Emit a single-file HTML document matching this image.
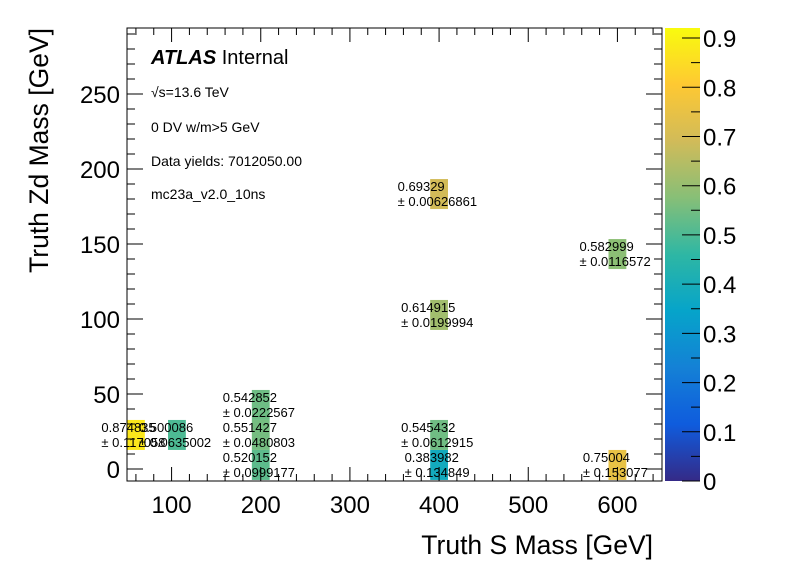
<!DOCTYPE html>
<html><head><meta charset="utf-8"><style>
html,body{margin:0;padding:0;background:#fff;}
svg{display:block;font-family:"Liberation Sans",sans-serif;}
</style></head><body>
<svg id="chart" width="796" height="572" viewBox="0 0 796 572" xmlns="http://www.w3.org/2000/svg">
<rect x="0" y="0" width="796" height="572" fill="#fff"/>
<g id="cells"></g>
<g id="labels"></g>
<g id="axes"></g>
<g id="cbar"></g>
<text x="151" y="64" font-size="20"><tspan font-weight="bold" font-style="italic">ATLAS</tspan> Internal</text>
<text x="151" y="97" font-size="14">√s=13.6 TeV</text>
<text x="151" y="132" font-size="14">0 DV w/m&gt;5 GeV</text>
<text x="151" y="166" font-size="14">Data yields: 7012050.00</text>
<text x="151" y="199" font-size="14">mc23a_v2.0_10ns</text>
<text x="653" y="554" font-size="26.5" text-anchor="end">Truth S Mass [GeV]</text>
<text transform="translate(48,28) rotate(-90)" font-size="26.5" text-anchor="end">Truth Zd Mass [GeV]</text>
</svg>
<script>
// data
const xVals = [60, 106, 200, 200, 200, 400, 400, 400, 400, 600, 600];
const yVals = [22.7, 22.7, 2.7, 22.7, 42.7, 2.7, 22.7, 102.7, 183.3, 2.7, 143.3];
const effVals = [0.874835, 0.500086, 0.520152, 0.551427, 0.542852, 0.383982, 0.545432, 0.614915, 0.69329, 0.75004, 0.582999];
const errVals = ["0.117058", "0.0635002", "0.0999177", "0.0480803", "0.0222567", "0.134849", "0.0612915", "0.0199994", "0.00626861", "0.153077", "0.0116572"];
const effText = ["0.874835", "0.500086", "0.520152", "0.551427", "0.542852", "0.383982", "0.545432", "0.614915", "0.69329", "0.75004", "0.582999"];
const xTicks = [100, 200, 300, 400, 500, 600];
const yTicks = [0, 50, 100, 150, 200, 250];
const zTicks = [0, 0.1, 0.2, 0.3, 0.4, 0.5, 0.6, 0.7, 0.8, 0.9];

const NS = "http://www.w3.org/2000/svg";
const L = 127, R = 662, T = 28, B = 481;
const xMin = 50, xMax = 650, yMin = -8, yMax = 294, zMax = 0.9204;
const xs = v => L + (v - xMin) * (R - L) / (xMax - xMin);
const ys = v => B - (v - yMin) * (B - T) / (yMax - yMin);
const CL = 665, CR = 700;
const zs = v => B - v * (B - T) / zMax;

const st = [0, .125, .25, .375, .5, .625, .75, .875, 1];
const rr = [0.2082, 0.0592, 0.0780, 0.0232, 0.1802, 0.5301, 0.8186, 0.9956, 0.9764];
const gg = [0.1664, 0.3599, 0.5041, 0.6419, 0.7178, 0.7492, 0.7328, 0.7862, 0.9832];
const bb = [0.5293, 0.8684, 0.8385, 0.7914, 0.6425, 0.4662, 0.3499, 0.1968, 0.0539];
function col(t) {
  t = Math.max(0, Math.min(1, t));
  let i = 0; while (i < st.length - 2 && t > st[i + 1]) i++;
  const f = (t - st[i]) / (st[i + 1] - st[i]);
  const c = a => Math.round(255 * (a[i] + f * (a[i + 1] - a[i])));
  return `rgb(${c(rr)},${c(gg)},${c(bb)})`;
}
function mk(tag, attrs, parent) {
  const e = document.createElementNS(NS, tag);
  for (const k in attrs) e.setAttribute(k, attrs[k]);
  parent.appendChild(e); return e;
}
const cells = document.getElementById('cells');
const labels = document.getElementById('labels');
const axes = document.getElementById('axes');
const cbar = document.getElementById('cbar');

for (let i = 0; i < xVals.length; i++) {
  const x0 = Math.max(L, xs(xVals[i] - 10)), x1 = Math.min(R, xs(xVals[i] + 10));
  const y0 = Math.max(T, ys(yVals[i] + 10)), y1 = Math.min(B, ys(yVals[i] - 10));
  const r = mk('rect', {x: x0, y: y0, width: x1 - x0, height: y1 - y0, fill: col(effVals[i] / zMax)}, cells);
  
  
}
for (let i = 0; i < xVals.length; i++) {
  const cx = xs(xVals[i]), cy = ys(yVals[i]);
  const line2 = "± " + errVals[i];
  const w = line2.length * 6.9;
  const t1 = mk('text', {x: cx - w / 2, y: cy - 3, 'font-size': 13}, labels);
  t1.textContent = effText[i];
  
  
  const t2 = mk('text', {x: cx - w / 2, y: cy + 12, 'font-size': 13}, labels);
  t2.textContent = line2;
  
  
}
const fr = mk('rect', {x: L, y: T, width: R - L, height: B - T, fill: 'none', stroke: '#000', 'stroke-width': 1}, axes);


let d = '';
for (let v = 60; v <= 640; v += 20) {
  const x = xs(v), len = (v % 100 === 0) ? 14 : 7;
  d += `M${x},${B}v${-len}M${x},${T}v${len}`;
}
for (let v = 0; v <= 290; v += 10) {
  const y = ys(v), len = (v % 50 === 0) ? 16 : 8;
  d += `M${L},${y}h${len}M${R},${y}h${-len}`;
}
const tp = mk('path', {d: d, stroke: '#000', 'stroke-width': 1, fill: 'none'}, axes);


xTicks.forEach(v => {
  const t = mk('text', {x: xs(v), y: 513, 'font-size': 24, 'text-anchor': 'middle'}, axes);
  t.textContent = v;
  
  
});
yTicks.forEach(v => {
  const t = mk('text', {x: 120, y: ys(v) + 9, 'font-size': 24, 'text-anchor': 'end'}, axes);
  t.textContent = v;
  
  
});
const defs = mk('defs', {}, cbar);
const lg = mk('linearGradient', {id: 'bird', x1: 0, y1: 1, x2: 0, y2: 0}, defs);
for (let i = 0; i <= 40; i++) mk('stop', {offset: i / 40, 'stop-color': col(i / 40)}, lg);
const cr = mk('rect', {x: CL, y: T, width: CR - CL, height: B - T, fill: 'url(#bird)'}, cbar);


let cd = '';
zTicks.forEach(v => { cd += `M${CR},${zs(v)}h-18`; });
for (let v = 0.05; v < 0.92; v += 0.1) cd += `M${CR},${zs(v)}h-9`;
const cp = mk('path', {d: cd, stroke: '#000', 'stroke-width': 1}, cbar);


zTicks.forEach(v => {
  const t = mk('text', {x: 703, y: zs(v) + 9, 'font-size': 24}, cbar);
  t.textContent = v === 0 ? '0' : v.toFixed(1);
  
  
});
</script>
</body></html>
